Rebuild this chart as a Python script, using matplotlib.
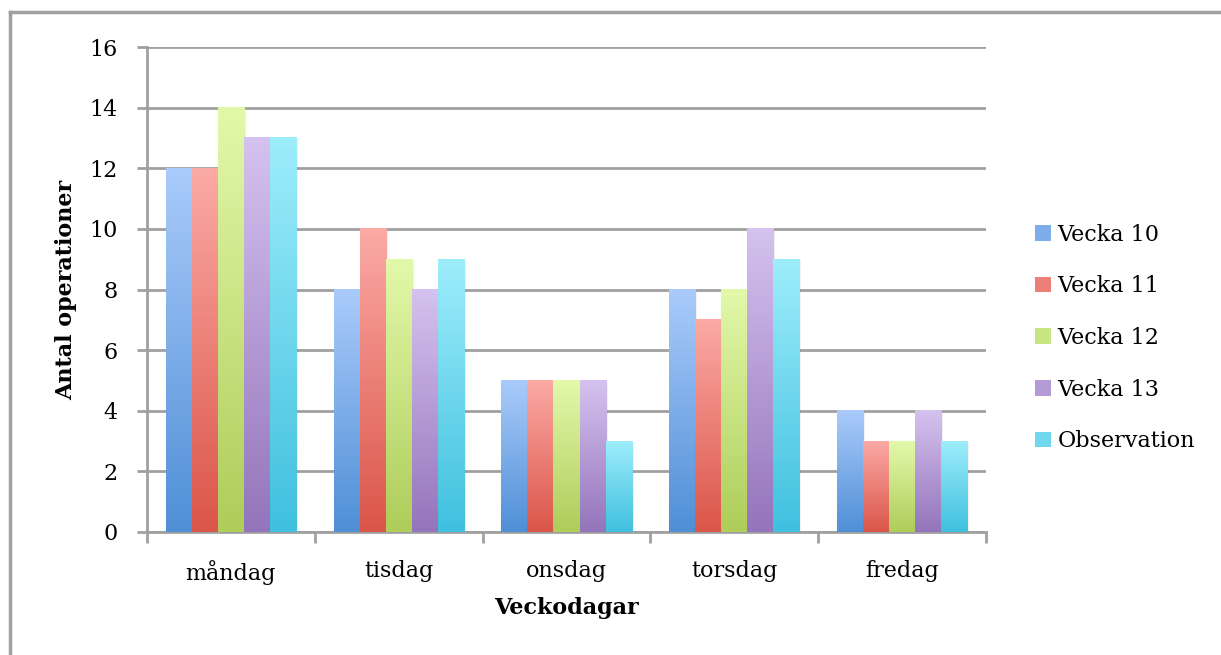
import numpy as np
import matplotlib
matplotlib.use("Agg")
import matplotlib.pyplot as plt
from matplotlib.patches import Patch
from matplotlib.colors import LinearSegmentedColormap

days = ["måndag", "tisdag", "onsdag", "torsdag", "fredag"]
series = ["Vecka 10", "Vecka 11", "Vecka 12", "Vecka 13", "Observation"]
vecka10 = [12, 8, 5, 8, 4]
vecka11 = [12, 10, 5, 7, 3]
vecka12 = [14, 9, 5, 8, 3]
vecka13 = [13, 8, 5, 10, 4]
observation = [13, 9, 3, 9, 3]
values = [vecka10, vecka11, vecka12, vecka13, observation]

# (top colour, bottom colour) for the gradient fill
grad = [
    ("#aacbfb", "#4f8fd6"),
    ("#fbaaa5", "#db5549"),
    ("#e2f9aa", "#aecd5a"),
    ("#d5c2ef", "#9474bb"),
    ("#9eedfb", "#3fc0df"),
]
mid = ["#7eaeea", "#ec8079", "#c9e482", "#b59bd6", "#6fd7ee"]

plt.rcParams['font.family'] = ['DejaVu Serif']

fig = plt.figure(figsize=(12.21, 6.55), dpi=100)
# outer frame (only top and left edges visible)
fig.add_artist(plt.Line2D([10 / 1221, 10 / 1221], [0, 1 - 12 / 655], color="#a0a0a0", lw=2.5,
                          transform=fig.transFigure))
fig.add_artist(plt.Line2D([10 / 1221, 1], [1 - 12 / 655, 1 - 12 / 655], color="#a0a0a0", lw=2.5,
                          transform=fig.transFigure))

ax = fig.add_axes([147 / 1221, 1 - 532 / 655, 839 / 1221, 485 / 655])

bw = 0.155
x = np.arange(len(days)) + 0.5
ramp = np.linspace(1, 0, 256).reshape(-1, 1)
for i, vals in enumerate(values):
    cmap = LinearSegmentedColormap.from_list(series[i], [grad[i][1], grad[i][0]])
    for j, v in enumerate(vals):
        left = x[j] + (i - 2) * bw - bw / 2
        # soft shadow on right
        ax.bar(left + bw / 2 + 0.012, v - 0.05, width=bw, bottom=0, color="#000000", alpha=0.06,
               zorder=2.5, linewidth=0)
        ax.imshow(ramp, cmap=cmap, aspect="auto", extent=(left, left + bw, 0, v),
                  zorder=3, interpolation="bilinear", vmin=0, vmax=1)
ax.set_xlim(0, 5)
ax.set_ylim(0, 16)

ax.set_yticks(np.arange(0, 17, 2))
ax.grid(axis="y", color="#a0a0a0", lw=2)
ax.set_axisbelow(True)
ax.set_xticks(np.arange(0, 6))
ax.set_xticklabels([])
ax.set_xticks(x, minor=True)
ax.set_xticklabels(days, minor=True)
ax.tick_params(axis="x", which="minor", length=0, pad=20, labelsize=16)
ax.tick_params(axis="x", which="major", length=8, width=2, color="#a0a0a0")
ax.tick_params(axis="y", length=7, width=2, color="#a0a0a0", labelsize=16, pad=14)

for s in ["top", "right"]:
    ax.spines[s].set_visible(False)
for s in ["left", "bottom"]:
    ax.spines[s].set_color("#a0a0a0")
    ax.spines[s].set_linewidth(2)

ax.set_xlabel("Veckodagar", fontsize=16, fontweight="bold", labelpad=9)
ax.set_ylabel("Antal operationer", fontsize=16, fontweight="bold", labelpad=9)

handles = [Patch(facecolor=mid[i], edgecolor="none", label=series[i]) for i in range(5)]
ax.legend(handles=handles, loc="center left", bbox_to_anchor=(1.035, 0.4), frameon=False,
          fontsize=16, handlelength=0.7, handleheight=0.7, handletextpad=0.3, labelspacing=1.33)

fig.savefig("out.png", dpi=100)
